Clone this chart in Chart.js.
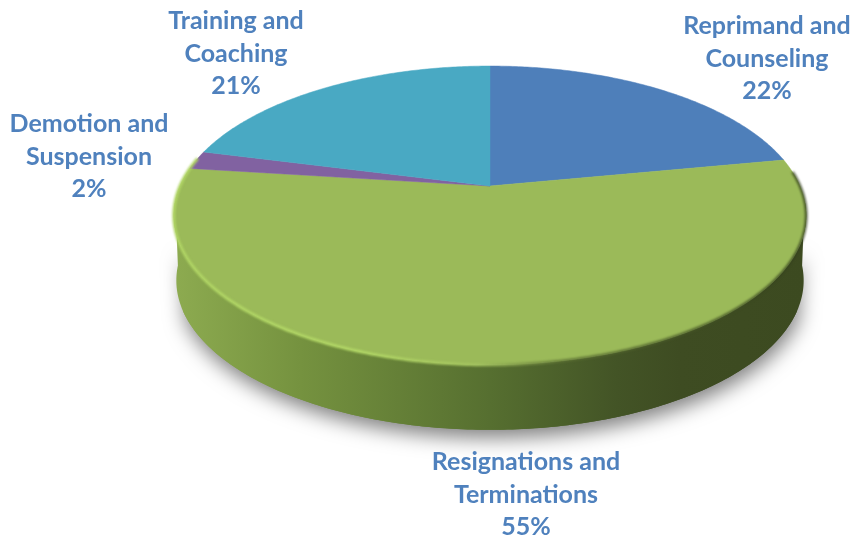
<!DOCTYPE html>
<html>
<head>
<meta charset="utf-8">
<style>
  html, body { margin: 0; padding: 0; background: #fff; }
  canvas { display: block; }
</style>
<script src="https://cdn.jsdelivr.net/npm/chart.js@4"></script>
</head>
<body>
<canvas id="pie" width="853" height="537"></canvas>
<script>
const categories = [
  ['Reprimand and', 'Counseling'],
  ['Resignations and', 'Terminations'],
  ['Demotion and', 'Suspension'],
  ['Training and', 'Coaching'],
];
const values = [22, 55, 2, 21];
const sliceColors = ['#4e7fba', '#9bba59', '#8162a1', '#49a9c3'];

// label centre x and first line y
const labelAnchors = [[767, 26], [526, 462], [89, 124], [236, 21]];
const lineHeight = 32.5;

// tilted disc: apex position, projected axes, perspective strength, wall depth
const tilt = { cx: 490, cy: 186, a: 310, b: 143.6, k: 0.197, depth: 65, wallScale: 0.992 };

function project(angle) {
  const u = Math.cos(angle), v = Math.sin(angle);
  const w = 1 - tilt.k * v;
  return [tilt.cx + tilt.a * u / w, tilt.cy + tilt.b * v / w];
}

function traceRim(ctx, from, to, move) {
  const steps = Math.max(2, Math.ceil(Math.abs(to - from) * 90));
  for (let i = 0; i <= steps; i++) {
    const p = project(from + (to - from) * i / steps);
    if (i === 0 && move) ctx.moveTo(p[0], p[1]);
    else ctx.lineTo(p[0], p[1]);
  }
}

function traceWall(ctx, inset) {
  const from = inset, to = Math.PI - inset;
  const steps = 200;
  ctx.beginPath();
  traceRim(ctx, from, to, true);
  for (let i = steps; i >= 0; i--) {
    const p = project(from + (to - from) * i / steps);
    ctx.lineTo(tilt.cx + (p[0] - tilt.cx) * tilt.wallScale, p[1] + tilt.depth);
  }
  ctx.closePath();
}

function drawWall(ctx) {
  const grad = ctx.createLinearGradient(174, 0, 806, 0);
  grad.addColorStop(0, '#8dab50');
  grad.addColorStop(0.2, '#75923f');
  grad.addColorStop(0.5, '#566f30');
  grad.addColorStop(0.7, '#435426');
  grad.addColorStop(0.8, '#3e4c22');
  grad.addColorStop(1, '#3c4a20');

  // shadow comes from a shorter wall so it fades out before the disc's widest line
  ctx.save();
  traceWall(ctx, 0.4);
  ctx.shadowColor = 'rgba(0,0,0,0.5)';
  ctx.shadowBlur = 20;
  ctx.shadowOffsetX = 2;
  ctx.shadowOffsetY = 8;
  ctx.fillStyle = grad;
  ctx.fill();
  ctx.restore();

  traceWall(ctx, 0.1);
  ctx.fillStyle = grad;
  ctx.fill();
}

function drawRimLight(ctx) {
  const grad = ctx.createLinearGradient(174, 0, 806, 0);
  grad.addColorStop(0, '#b0d564');
  grad.addColorStop(0.3, '#b2d766');
  grad.addColorStop(0.48, '#a3c35f');
  grad.addColorStop(0.62, 'rgba(90,110,50,0.8)');
  grad.addColorStop(1, 'rgba(50,62,28,0.75)');
  ctx.save();
  ctx.beginPath();
  traceRim(ctx, -0.1, Math.PI + 0.2, true);
  ctx.strokeStyle = grad;
  ctx.lineWidth = 3;
  ctx.filter = 'blur(0.8px)';
  ctx.stroke();
  ctx.restore();
}

const tiltedPie = {
  id: 'tiltedPie',
  beforeDatasetsDraw(chart) {
    const ctx = chart.ctx;
    drawWall(ctx);
    chart.getDatasetMeta(0).data.forEach((arc, i) => {
      ctx.beginPath();
      ctx.moveTo(tilt.cx, tilt.cy);
      traceRim(ctx, arc.startAngle, arc.endAngle, false);
      ctx.closePath();
      ctx.fillStyle = arc.options.backgroundColor;
      ctx.fill();
      ctx.strokeStyle = arc.options.backgroundColor;
      ctx.lineWidth = 0.5;
      ctx.stroke();
    });
    drawRimLight(ctx);
    return false;
  },
  afterDraw(chart) {
    const ctx = chart.ctx;
    const total = values.reduce((a, b) => a + b, 0);
    ctx.save();
    ctx.font = 'bold 25px Lato, Carlito, sans-serif';
    ctx.fillStyle = '#4f81bd';
    ctx.textAlign = 'center';
    ctx.textBaseline = 'middle';
    categories.forEach((lines, i) => {
      const [x, y] = labelAnchors[i];
      const all = lines.concat(Math.round(values[i] / total * 100) + '%');
      all.forEach((line, n) => ctx.fillText(line, x, y + n * lineHeight));
    });
    ctx.restore();
  }
};

new Chart(document.getElementById('pie'), {
  type: 'pie',
  data: {
    labels: categories.map(c => c.join(' ')),
    datasets: [{ data: values, backgroundColor: sliceColors, borderWidth: 0 }]
  },
  options: {
    responsive: false,
    animation: false,
    plugins: { legend: { display: false }, tooltip: { enabled: false } }
  },
  plugins: [tiltedPie]
});
</script>
</body>
</html>
